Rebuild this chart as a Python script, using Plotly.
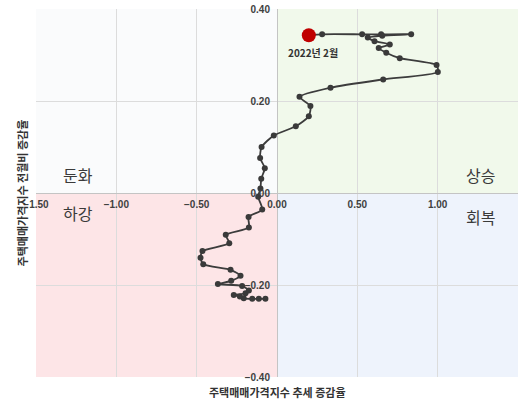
import plotly.graph_objects as go

# 주택매매가격지수: 추세 증감율 (x) vs 전월비 증감율 (y), time order
trend_rate = [-0.072, -0.113, -0.154, -0.207, -0.231, -0.269, -0.196, -0.175, -0.217,
              -0.368, -0.285, -0.227, -0.289, -0.459, -0.476, -0.464, -0.297, -0.319,
              -0.175, -0.177, -0.092, -0.117, -0.103, -0.098, -0.076, -0.105, -0.096,
              -0.020, 0.117, 0.198, 0.208, 0.140, 0.333, 0.661, 1.001, 0.993, 0.764,
              0.680, 0.633, 0.702, 0.607, 0.565, 0.655, 0.835, 0.648, 0.530, 0.281, 0.198]
mom_rate = [-0.230, -0.230, -0.230, -0.229, -0.225, -0.222, -0.218, -0.212, -0.202,
            -0.198, -0.191, -0.180, -0.167, -0.155, -0.141, -0.126, -0.109, -0.091,
            -0.075, -0.052, -0.036, -0.008, 0.010, 0.031, 0.054, 0.076, 0.100,
            0.125, 0.145, 0.167, 0.189, 0.209, 0.229, 0.247, 0.263, 0.278, 0.293,
            0.305, 0.315, 0.323, 0.330, 0.338, 0.342, 0.345, 0.345, 0.345, 0.345, 0.343]
last_label = "2022년 2월"

x_range = [-1.5, 1.5]
y_range = [-0.4, 0.4]
x_ticks = [-1.5, -1.0, -0.5, 0.0, 0.5, 1.0, 1.5]
y_ticks = [-0.4, -0.2, 0.0, 0.2, 0.4]

quadrants = [
    (x_range[0], 0, 0, y_range[1], "#fafbfc"),
    (0, x_range[1], 0, y_range[1], "#f1f9eb"),
    (x_range[0], 0, y_range[0], 0, "#fde5e7"),
    (0, x_range[1], y_range[0], 0, "#eef3fc"),
]
quad_labels = [("둔화", 0.052, 0.549), ("상승", 0.957, 0.549),
               ("하강", 0.052, 0.446), ("회복", 0.957, 0.435)]

KR = "Noto Sans CJK KR"
fig = go.Figure()

fig.add_trace(go.Scatter(
    x=trend_rate, y=mom_rate, mode="lines+markers",
    line=dict(color="#3c3c3c", width=1.8, shape="spline", smoothing=0.6),
    marker=dict(color="#3a3a3a", size=6),
    hoverinfo="skip", showlegend=False,
))
fig.add_trace(go.Scatter(
    x=[trend_rate[-1]], y=[mom_rate[-1]], mode="markers",
    marker=dict(color="#c00000", size=14),
    hoverinfo="skip", showlegend=False,
))

shapes = []
for x0, x1, y0, y1, c in quadrants:
    shapes.append(dict(type="rect", xref="x", yref="y", x0=x0, x1=x1, y0=y0, y1=y1,
                       fillcolor=c, line=dict(width=0), layer="below"))

annotations = [
    dict(x=trend_rate[-1], y=mom_rate[-1], xref="x", yref="y", text=last_label,
         showarrow=False, yshift=-17, xshift=4,
         font=dict(family=KR, size=10, color="#333333", weight="bold")),
    dict(x=0.5, y=-0.040, xref="paper", yref="paper", yanchor="middle",
         text="주택매매가격지수 추세 증감율", showarrow=False,
         font=dict(family=KR, size=11, color="#333333", weight="bold")),
    dict(x=-0.049, y=0.5, xref="paper", yref="paper", textangle=-90,
         text="주택매매가격지수 전월비 증감율", showarrow=False,
         font=dict(family=KR, size=11, color="#333333", weight="bold")),
]
for t, px, py in quad_labels:
    annotations.append(dict(x=px, y=py, xref="paper", yref="paper", text=t,
                            showarrow=False,
                            font=dict(family=KR, size=16, color="#3a3a3a")))

tickfont = dict(family="Liberation Sans", size=10, color="#404040", weight="bold")
common = dict(anchor="free", position=0.5, showline=False, ticks="", automargin=False,
              showgrid=True, gridcolor="#dcdcdc", gridwidth=1,
              zeroline=True, zerolinecolor="#c4c4c4", zerolinewidth=1,
              tickformat=".2f", tickfont=tickfont)
fig.update_layout(
    width=528, height=407,
    margin=dict(l=36, r=10, t=9, b=30, autoexpand=False),
    paper_bgcolor="white", plot_bgcolor="white",
    shapes=shapes, annotations=annotations,
    xaxis=dict(range=x_range, tickvals=x_ticks, ticklabelstandoff=4, **common),
    yaxis=dict(range=y_range, tickvals=y_ticks, ticklabelstandoff=7, **common),
)

fig.write_html("out.html", config={"displayModeBar": False},
               post_script="document.body.style.margin='0';document.body.style.overflow='hidden';")
